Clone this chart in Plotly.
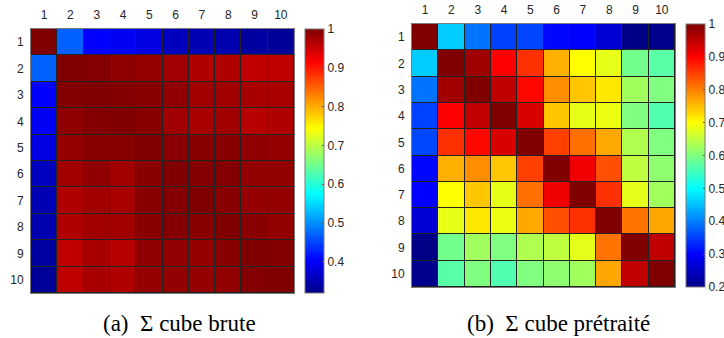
import plotly.graph_objects as go

labels = [str(i) for i in range(1, 11)]

# Sigma cube brute (correlation matrix)
sigma_brute = [
    [1.000, 0.470, 0.405, 0.398, 0.385, 0.360, 0.352, 0.350, 0.338, 0.332],
    [0.470, 1.000, 0.997, 0.989, 0.986, 0.978, 0.968, 0.968, 0.958, 0.958],
    [0.405, 0.997, 1.000, 0.997, 0.994, 0.989, 0.978, 0.978, 0.973, 0.973],
    [0.398, 0.989, 0.997, 1.000, 0.994, 0.978, 0.973, 0.978, 0.963, 0.968],
    [0.385, 0.986, 0.994, 0.994, 1.000, 0.993, 0.994, 0.994, 0.989, 0.986],
    [0.360, 0.978, 0.989, 0.978, 0.993, 1.000, 0.997, 0.997, 0.988, 0.988],
    [0.352, 0.968, 0.978, 0.973, 0.994, 0.997, 1.000, 0.994, 0.986, 0.986],
    [0.350, 0.968, 0.978, 0.978, 0.994, 0.997, 0.994, 1.000, 0.994, 0.988],
    [0.338, 0.958, 0.973, 0.963, 0.989, 0.988, 0.986, 0.994, 1.000, 0.997],
    [0.332, 0.958, 0.973, 0.968, 0.986, 0.988, 0.986, 0.988, 0.997, 1.000],
]

# Sigma cube pretraite
sigma_pretraite = [
    [1.000, 0.460, 0.390, 0.350, 0.355, 0.305, 0.300, 0.265, 0.200, 0.205],
    [0.460, 1.000, 0.974, 0.900, 0.862, 0.762, 0.700, 0.682, 0.590, 0.570],
    [0.390, 0.974, 1.000, 0.950, 0.895, 0.788, 0.744, 0.718, 0.626, 0.600],
    [0.350, 0.900, 0.950, 1.000, 0.930, 0.744, 0.682, 0.685, 0.600, 0.563],
    [0.355, 0.862, 0.895, 0.930, 1.000, 0.850, 0.812, 0.768, 0.638, 0.600],
    [0.305, 0.762, 0.788, 0.744, 0.850, 1.000, 0.912, 0.838, 0.650, 0.613],
    [0.300, 0.700, 0.744, 0.682, 0.812, 0.912, 1.000, 0.862, 0.680, 0.626],
    [0.265, 0.682, 0.718, 0.685, 0.768, 0.838, 0.862, 1.000, 0.810, 0.770],
    [0.200, 0.590, 0.626, 0.600, 0.638, 0.650, 0.680, 0.810, 1.000, 0.950],
    [0.205, 0.570, 0.600, 0.563, 0.600, 0.613, 0.626, 0.770, 0.950, 1.000],
]

ticks_a = [0.4, 0.5, 0.6, 0.7, 0.8, 0.9, 1.0]
ticks_b = [0.2, 0.3, 0.4, 0.5, 0.6, 0.7, 0.8, 0.9, 1.0]

jet = [
    [0.0, 'rgb(0,0,135)'],
    [0.125, 'rgb(0,0,255)'],
    [0.375, 'rgb(0,255,255)'],
    [0.625, 'rgb(255,255,0)'],
    [0.875, 'rgb(255,0,0)'],
    [1.0, 'rgb(128,0,0)'],
]

TXT = '#262626'
FONT = dict(family='Liberation Sans, Arial', size=12, color=TXT)
SERIF = dict(family='Liberation Serif, Times New Roman, serif', size=23, color='black')


def cbar(x, y, length, vals):
    return dict(
        x=x, xanchor='left', y=y, yanchor='middle',
        len=length, lenmode='fraction',
        thickness=19, thicknessmode='pixels',
        xpad=0, ypad=0,
        outlinewidth=1, outlinecolor='#7a7a7a',
        ticks='inside', ticklen=2, tickcolor='#555555',
        tickvals=vals, ticktext=[f'{v:g}' for v in vals],
        tickfont=FONT,
    )


fig = go.Figure()

fig.add_trace(go.Heatmap(
    z=sigma_brute, x=labels, y=labels,
    colorscale=jet, zmin=0.32, zmax=1.0,
    xgap=1, ygap=1,
    colorbar=cbar(305 / 724, 0.524, 0.781, ticks_a),
    xaxis='x', yaxis='y',
))

fig.add_trace(go.Heatmap(
    z=sigma_pretraite, x=labels, y=labels,
    colorscale=jet, zmin=0.2, zmax=1.0,
    xgap=1, ygap=1,
    colorbar=cbar(686 / 724, 0.540, 0.778, ticks_b),
    xaxis='x2', yaxis='y2',
))

axis_common = dict(
    showgrid=False, zeroline=False, ticks='', tickfont=FONT,
    showline=True, linecolor='#7a7a7a', linewidth=1, mirror=True,
    ticklabelstandoff=4,
)

fig.update_layout(
    width=724, height=338,
    margin=dict(l=0, r=0, t=0, b=0, autoexpand=False),
    paper_bgcolor='white',
    plot_bgcolor='#222222',
    showlegend=False,
    xaxis=dict(domain=[31 / 724, 294 / 724], side='top', anchor='y', automargin=False, **axis_common),
    yaxis=dict(domain=[45 / 338, 309 / 338], autorange='reversed', anchor='x', automargin=False, **axis_common),
    xaxis2=dict(domain=[412 / 724, 675 / 724], side='top', anchor='y2', automargin=False, **axis_common),
    yaxis2=dict(domain=[51 / 338, 314 / 338], autorange='reversed', anchor='x2', automargin=False, **axis_common),
    annotations=[
        dict(text='(a)  \u03a3 cube brute', x=179 / 724, y=(338 - 323) / 338,
             xref='paper', yref='paper', showarrow=False,
             xanchor='center', yanchor='middle', font=SERIF),
        dict(text='(b)  \u03a3 cube pr\u00e9trait\u00e9', x=558 / 724, y=(338 - 323) / 338,
             xref='paper', yref='paper', showarrow=False,
             xanchor='center', yanchor='middle', font=SERIF),
    ],
)

# the page body has a default 8px margin; drop it so the figure sits at (0, 0)
fig.write_html("out.html", config={'displayModeBar': False},
               post_script="document.body.style.margin = '0';")
